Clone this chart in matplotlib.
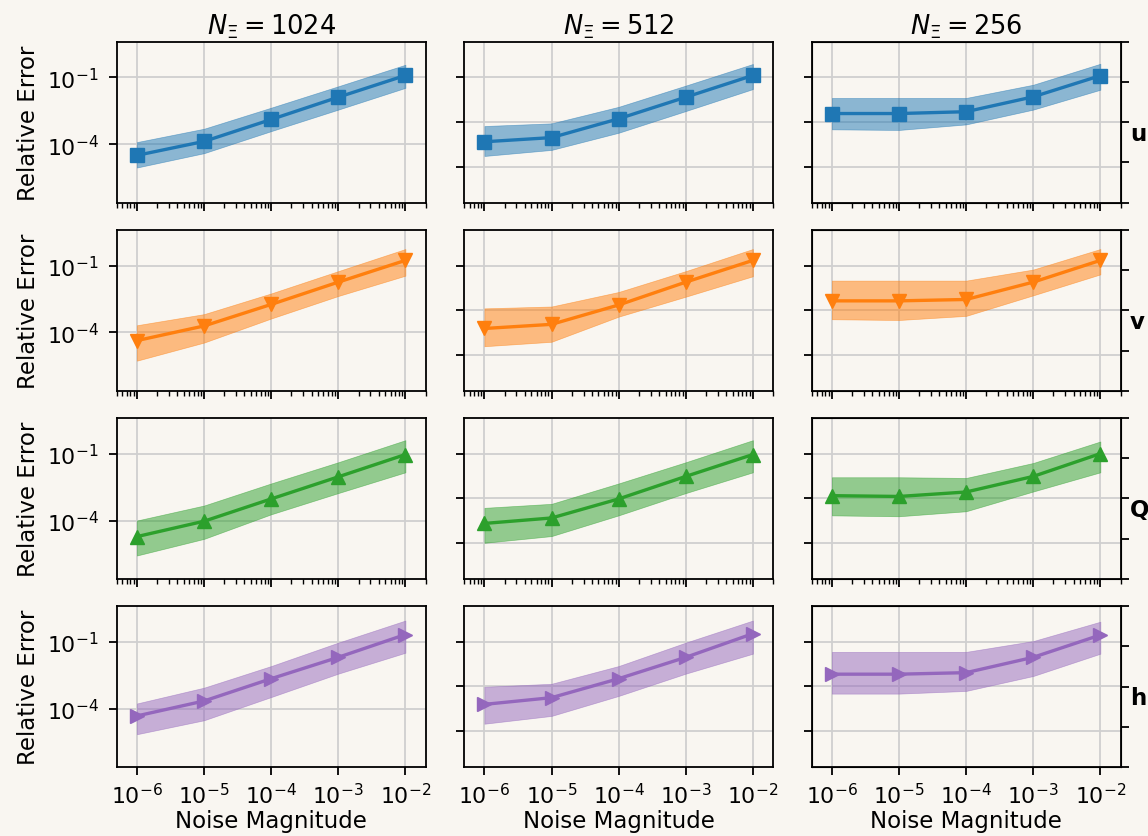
import numpy as np
import matplotlib
matplotlib.use("Agg")
import matplotlib.pyplot as plt
from matplotlib.ticker import NullLocator, FixedLocator, LogLocator

noise = [1e-6, 1e-5, 1e-4, 1e-3, 1e-2]
n_xi = [1024, 512, 256]
var_names = ["u", "v", "Q", "h"]

# relative error: mean, lower and upper band, one list per column (N = 1024, 512, 256)
u_mean = [[3.2e-5, 1.35e-4, 1.3e-3, 1.3e-2, 0.123],
          [1.3e-4, 2.0e-4, 1.4e-3, 1.3e-2, 0.123],
          [2.4e-3, 2.4e-3, 2.9e-3, 1.35e-2, 0.12]]
u_lo = [[9.1e-6, 4.0e-5, 3.9e-4, 3.6e-3, 3.4e-2],
        [3.0e-5, 5.6e-5, 3.3e-4, 3.1e-3, 3.0e-2],
        [4.7e-4, 4.4e-4, 7.8e-4, 3.6e-3, 2.8e-2]]
u_hi = [[1.26e-4, 5.0e-4, 4.4e-3, 4.0e-2, 0.37],
        [6.6e-4, 8.7e-4, 4.8e-3, 4.3e-2, 0.40],
        [1.2e-2, 1.2e-2, 1.2e-2, 4.7e-2, 0.41]]

v_mean = [[4.3e-5, 1.95e-4, 1.8e-3, 1.8e-2, 0.17],
          [1.5e-4, 2.3e-4, 1.7e-3, 1.8e-2, 0.17],
          [2.6e-3, 2.6e-3, 3.0e-3, 1.8e-2, 0.17]]
v_lo = [[5.4e-6, 3.5e-5, 4.2e-4, 4.3e-3, 3.5e-2],
        [2.4e-5, 3.8e-5, 5.1e-4, 4.0e-3, 3.3e-2],
        [3.9e-4, 3.6e-4, 5.5e-4, 4.6e-3, 4.0e-2]]
v_hi = [[2.1e-4, 6.6e-4, 5.6e-3, 5.6e-2, 0.55],
        [1.2e-3, 1.45e-3, 6.5e-3, 5.6e-2, 0.55],
        [2.1e-2, 2.1e-2, 2.1e-2, 6.6e-2, 0.55]]

Q_mean = [[1.9e-5, 9.3e-5, 9.3e-4, 9.1e-3, 9.1e-2],
          [7.4e-5, 1.3e-4, 9.3e-4, 9.5e-3, 9.1e-2],
          [1.3e-3, 1.2e-3, 1.9e-3, 9.5e-3, 0.10]]
Q_lo = [[2.7e-6, 1.5e-5, 1.9e-4, 1.7e-3, 1.45e-2],
        [1.0e-5, 2.0e-5, 1.7e-4, 1.7e-3, 1.45e-2],
        [1.7e-4, 1.55e-4, 2.6e-4, 2.0e-3, 1.45e-2]]
Q_hi = [[1.0e-4, 4.7e-4, 4.6e-3, 4.1e-2, 0.40],
        [3.7e-4, 5.6e-4, 4.6e-3, 4.1e-2, 0.40],
        [8.7e-3, 8.7e-3, 8.1e-3, 3.8e-2, 0.35]]

h_mean = [[4.7e-5, 2.2e-4, 2.2e-3, 2.0e-2, 0.21],
          [1.55e-4, 3.1e-4, 2.2e-3, 2.0e-2, 0.23],
          [3.5e-3, 3.5e-3, 4.1e-3, 2.0e-2, 0.20]]
h_lo = [[7.1e-6, 3.0e-5, 3.3e-4, 3.7e-3, 3.2e-2],
        [2.1e-5, 4.7e-5, 3.7e-4, 3.7e-3, 2.9e-2],
        [4.7e-4, 4.7e-4, 6.2e-4, 2.9e-3, 2.9e-2]]
h_hi = [[1.7e-4, 8.7e-4, 8.1e-3, 9.1e-2, 0.89],
        [9.5e-4, 1.3e-3, 8.1e-3, 9.1e-2, 0.89],
        [3.5e-2, 3.5e-2, 3.5e-2, 0.107, 0.79]]

means = [u_mean, v_mean, Q_mean, h_mean]
lows = [u_lo, v_lo, Q_lo, h_lo]
highs = [u_hi, v_hi, Q_hi, h_hi]
colors = ["#1f77b4", "#ff7f0e", "#2ca02c", "#9467bd"]
markers = ["s", "v", "^", ">"]

bg = "#f9f6f1"
plt.rcParams["font.size"] = 16.5
plt.rcParams["xtick.labelsize"] = 15.8
plt.rcParams["ytick.labelsize"] = 15.8
plt.rcParams["xtick.major.size"] = 5.8
plt.rcParams["ytick.major.size"] = 5.8
plt.rcParams["xtick.minor.size"] = 3.3
plt.rcParams["xtick.major.pad"] = 5.0
plt.rcParams["ytick.major.pad"] = 7
plt.rcParams["xtick.major.width"] = 1.3
plt.rcParams["ytick.major.width"] = 1.3
plt.rcParams["xtick.minor.width"] = 1.0

fig, axes = plt.subplots(4, 3, figsize=(11.48, 8.37), dpi=100)
fig.patch.set_facecolor(bg)
fig.subplots_adjust(left=0.1017, right=0.9761, top=0.949, bottom=0.0824,
                    wspace=0.125, hspace=0.168)

for i in range(4):
    for j in range(3):
        ax = axes[i, j]
        ax.set_facecolor(bg)
        ax.fill_between(noise, lows[i][j], highs[i][j], color=colors[i],
                        alpha=0.5, linewidth=0.5)
        ax.plot(noise, means[i][j], color=colors[i], marker=markers[i],
                markersize=10, linewidth=2.4)
        ax.set_xscale("log")
        ax.set_yscale("log")
        ax.set_xlim(5e-7, 2e-2)
        ax.set_ylim(2.4e-7, 4.0)
        ax.xaxis.set_major_locator(FixedLocator(noise))
        ax.yaxis.set_minor_locator(NullLocator())
        if j == 0:
            ax.yaxis.set_major_locator(FixedLocator([1e-7, 1e-4, 1e-1]))
            ax.set_ylabel("Relative Error", labelpad=5)
        else:
            ax.yaxis.set_major_locator(FixedLocator([1e-5, 1e-3, 1e-1]))
            ax.tick_params(axis="y", labelleft=False)
        if i < 3:
            ax.xaxis.set_minor_locator(LogLocator(base=10, subs=np.arange(2, 10), numticks=50))
            ax.tick_params(axis="x", which="both", labelbottom=False)
        else:
            ax.xaxis.set_minor_locator(NullLocator())
            ax.set_xlabel("Noise Magnitude", labelpad=1)
        if i == 0:
            ax.set_title(r"$N_\Xi = %d$" % n_xi[j], fontsize=18.5, pad=6)
        ax.grid(True, which="major", color="#cfcfcf", linewidth=1.3)
        ax.set_axisbelow(True)
        for s in ax.spines.values():
            s.set_linewidth(1.3)
        if j == 2:
            ax2 = ax.twinx()
            ax2.set_ylim(0, 1)
            ax2.set_yticks([0, 0.25, 0.5, 0.75, 1.0])
            ax2.set_yticklabels([])
            ax2.set_ylabel(var_names[i], rotation=0, fontweight="bold",
                           ha="left", va="center")
            ax2.yaxis.set_label_coords(1.03, 0.43)

plt.savefig("out.png", dpi=100, facecolor=bg)
